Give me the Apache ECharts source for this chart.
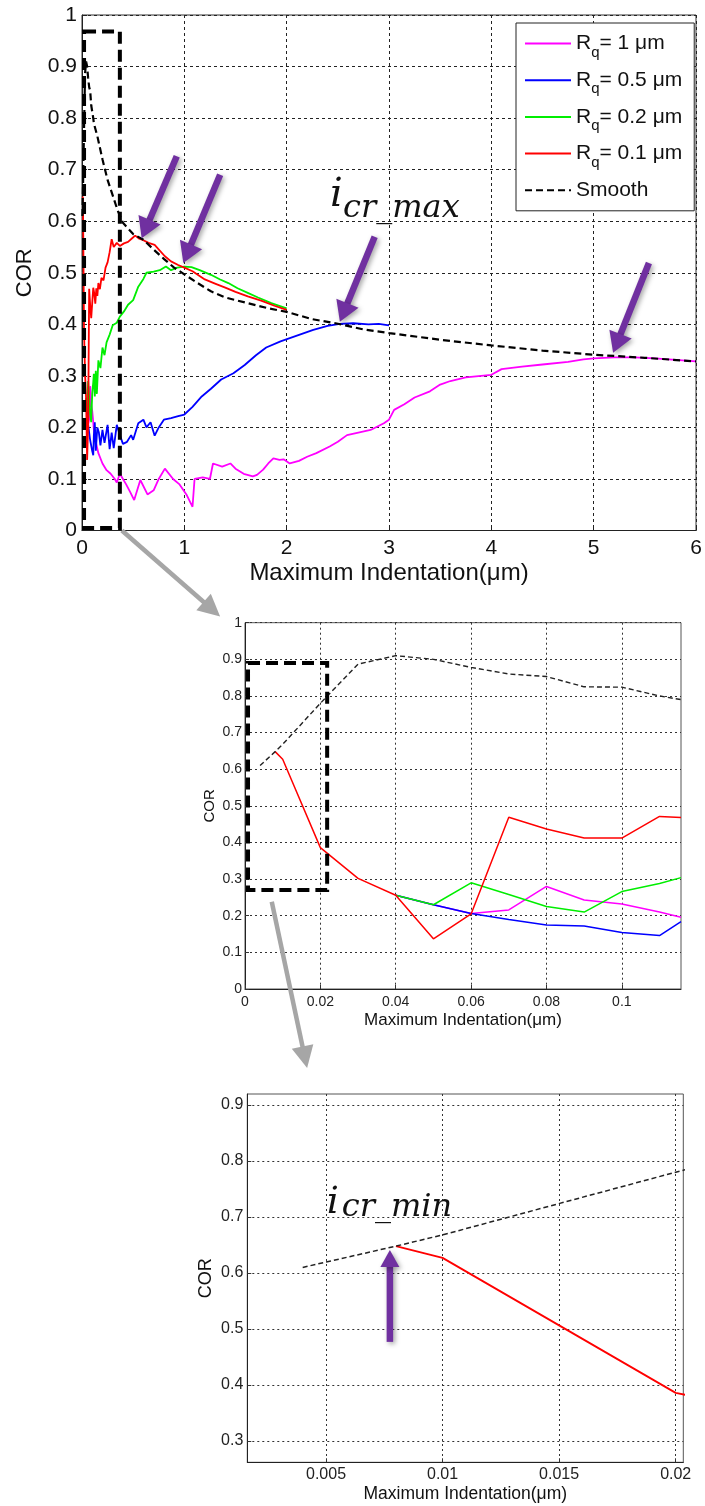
<!DOCTYPE html>
<html>
<head>
<meta charset="utf-8">
<script src="https://cdn.jsdelivr.net/npm/echarts@6/dist/echarts.min.js"></script>
<style>
html, body { margin: 0; padding: 0; background: #fff; }
#main { width: 705px; height: 1506px; }
</style>
</head>
<body>
<div id="main"></div>
<script>
// legend names (R with subscript q)
var seriesNames = ['Rq= 1 μm', 'Rq= 0.5 μm', 'Rq= 0.2 μm', 'Rq= 0.1 μm', 'Smooth'];

// fine data, first 0.12 µm (middle and bottom panel, also start of the top panel)
var fineSmooth = [[0.004,0.61],[0.008,0.648],[0.01,0.668],[0.02,0.78],[0.03,0.887],[0.04,0.91],[0.05,0.90],[0.06,0.878],[0.07,0.86],[0.08,0.853],[0.09,0.825],[0.1,0.824],[0.11,0.80],[0.1157,0.79]];
var fineRed = [[0.008,0.648],[0.01,0.627],[0.02,0.386],[0.03,0.302],[0.04,0.256],[0.05,0.137],[0.06,0.205],[0.07,0.469],[0.08,0.437],[0.09,0.412],[0.1,0.412],[0.11,0.471],[0.1157,0.468]];
var fineGreen = [[0.04,0.256],[0.05,0.23],[0.06,0.29],[0.07,0.258],[0.08,0.225],[0.09,0.21],[0.1,0.266],[0.11,0.288],[0.1157,0.304]];
var fineBlue = [[0.04,0.256],[0.05,0.23],[0.06,0.206],[0.07,0.19],[0.08,0.175],[0.09,0.172],[0.1,0.154],[0.11,0.146],[0.1157,0.184]];
var fineMagenta = [[0.04,0.256],[0.05,0.23],[0.06,0.206],[0.07,0.216],[0.08,0.28],[0.09,0.243],[0.1,0.232],[0.11,0.21],[0.1157,0.196]];

// rest of the curves (top panel only)
var restSmooth = [[0.15,0.765],[0.2,0.72],[0.25,0.68],[0.3,0.65],[0.35,0.62],[0.4,0.597],[0.5,0.575],[0.6,0.564],[0.7,0.545],[0.8,0.527],[0.9,0.51],[1.0,0.497],[1.13,0.48],[1.26,0.464],[1.4,0.452],[1.62,0.441],[1.8,0.432],[2.0,0.424],[2.25,0.41],[2.5,0.401],[2.75,0.39],[3.0,0.383],[3.5,0.37],[4.0,0.359],[4.5,0.349],[5.0,0.341],[5.5,0.335],[6.0,0.328]];
var restRed = [[0.12,0.46],[0.13,0.44],[0.14,0.47],[0.15,0.455],[0.16,0.48],[0.175,0.468],[0.19,0.49],[0.21,0.485],[0.23,0.51],[0.25,0.52],[0.27,0.54],[0.29,0.565],[0.31,0.55],[0.34,0.558],[0.37,0.552],[0.41,0.557],[0.45,0.56],[0.49,0.567],[0.52,0.572],[0.56,0.566],[0.6,0.563],[0.65,0.558],[0.71,0.554],[0.76,0.543],[0.81,0.532],[0.87,0.522],[0.94,0.515],[1.0,0.51],[1.08,0.503],[1.2,0.487],[1.3,0.479],[1.4,0.471],[1.5,0.463],[1.62,0.454],[1.75,0.446],[1.88,0.436],[2.0,0.428]];
var restGreen = [[0.125,0.26],[0.135,0.31],[0.145,0.265],[0.16,0.33],[0.18,0.315],[0.2,0.355],[0.22,0.34],[0.24,0.365],[0.27,0.38],[0.3,0.398],[0.34,0.403],[0.37,0.415],[0.41,0.425],[0.45,0.438],[0.5,0.447],[0.55,0.473],[0.6,0.488],[0.63,0.5],[0.7,0.502],[0.76,0.505],[0.82,0.512],[0.87,0.505],[0.93,0.51],[1.0,0.512],[1.07,0.511],[1.15,0.505],[1.26,0.496],[1.35,0.487],[1.43,0.48],[1.52,0.47],[1.62,0.461],[1.72,0.452],[1.85,0.441],[2.0,0.431]];
var restBlue = [[0.125,0.21],[0.135,0.155],[0.15,0.2],[0.165,0.19],[0.18,0.165],[0.2,0.195],[0.22,0.17],[0.25,0.205],[0.27,0.158],[0.29,0.19],[0.31,0.16],[0.34,0.205],[0.37,0.185],[0.4,0.168],[0.44,0.172],[0.48,0.185],[0.5,0.176],[0.55,0.208],[0.6,0.215],[0.63,0.2],[0.67,0.21],[0.71,0.184],[0.75,0.2],[0.8,0.215],[0.87,0.218],[0.94,0.222],[1.0,0.225],[1.08,0.24],[1.17,0.26],[1.26,0.275],[1.36,0.293],[1.48,0.305],[1.59,0.321],[1.7,0.34],[1.8,0.355],[1.94,0.367],[2.1,0.378],[2.26,0.389],[2.4,0.397],[2.52,0.401],[2.65,0.402],[2.8,0.4],[2.9,0.401],[3.0,0.398]];
var restMagenta = [[0.13,0.176],[0.16,0.15],[0.2,0.13],[0.24,0.117],[0.28,0.11],[0.32,0.1],[0.34,0.093],[0.37,0.11],[0.4,0.1],[0.43,0.09],[0.47,0.075],[0.51,0.059],[0.57,0.098],[0.64,0.07],[0.7,0.078],[0.75,0.1],[0.81,0.12],[0.89,0.1],[0.95,0.09],[1.02,0.07],[1.08,0.046],[1.1,0.1],[1.18,0.103],[1.25,0.1],[1.28,0.13],[1.37,0.124],[1.45,0.13],[1.5,0.12],[1.58,0.11],[1.67,0.105],[1.71,0.108],[1.77,0.118],[1.82,0.13],[1.87,0.14],[1.93,0.137],[1.97,0.138],[2.03,0.13],[2.12,0.135],[2.2,0.143],[2.29,0.15],[2.42,0.163],[2.5,0.172],[2.59,0.185],[2.7,0.19],[2.82,0.195],[2.95,0.208],[3.0,0.215],[3.05,0.234],[3.15,0.245],[3.25,0.258],[3.4,0.27],[3.5,0.283],[3.6,0.29],[3.75,0.297],[3.9,0.3],[4.0,0.302],[4.1,0.313],[4.3,0.318],[4.5,0.322],[4.75,0.327],[4.9,0.332],[5.0,0.334],[5.2,0.336],[5.4,0.336],[5.6,0.334],[5.8,0.331],[6.0,0.328]];

// tick values
var midXTicks = [0, 0.02, 0.04, 0.06, 0.08, 0.1];
var lowXTicks = [0.005, 0.01, 0.015, 0.02];
var lowYTicks = [0.3, 0.4, 0.5, 0.6, 0.7, 0.8, 0.9];

var FONT = 'Liberation Sans';
var colors = ['#ff00ff', '#0000ff', '#00ee00', '#ff0000', '#000000'];

var chart = echarts.init(document.getElementById('main'));

function xAx(grid, opt) {
    return Object.assign({
        gridIndex: grid,
        type: 'value',
        nameLocation: 'middle',
        axisLine: { show: true, onZero: false, lineStyle: { color: '#222', width: 1 } },
        axisTick: { show: true, inside: true, length: 5, lineStyle: { color: '#222' } },
        splitLine: { show: true, lineStyle: { color: '#333', type: [2, 3], width: 1 } }
    }, opt);
}

function line(name, grid, data, color, width, dashed) {
    return {
        name: name,
        type: 'line',
        xAxisIndex: grid,
        yAxisIndex: grid,
        data: data,
        symbol: 'none',
        silent: true,
        lineStyle: { color: color, width: width, type: dashed ? dashed : 'solid' },
        itemStyle: { color: color }
    };
}

var option = {
    backgroundColor: '#fff',
    animation: false,
    grid: [
        { left: 82, top: 15, width: 614, height: 515.5, show: true, borderColor: '#333', borderWidth: 1, backgroundColor: '#fff' },
        { left: 245, top: 622.7, width: 436, height: 366.3, show: true, borderColor: '#555', borderWidth: 1, backgroundColor: '#fff' },
        { left: 247.3, top: 1094, width: 436, height: 368.3, show: true, borderColor: '#555', borderWidth: 1, backgroundColor: '#fff' }
    ],
    legend: {
        data: seriesNames,
        orient: 'vertical',
        left: 516,
        top: 23,
        padding: [4, 12, 4, 8],
        itemGap: 3.7,
        itemWidth: 46,
        itemHeight: 14,
        backgroundColor: '#fff',
        borderColor: '#222',
        borderWidth: 1,
        borderRadius: 0,
        selectedMode: false,
        // hide the symbol drawn in the middle of the line icon
        itemStyle: { opacity: 0, color: 'rgba(0,0,0,0)', borderWidth: 0 },
        formatter: function (name) {
            if (name.indexOf('Rq') === 0) {
                return '{r|R}{q|q}{r|' + name.slice(2) + '}';
            }
            return '{r|' + name + '}{q| }';
        },
        textStyle: {
            rich: {
                r: { fontSize: 21, lineHeight: 33, fontFamily: FONT, color: '#111' },
                q: { fontSize: 15, lineHeight: 15, padding: [18, 0, 0, 0], fontFamily: FONT, color: '#111' }
            }
        }
    },
    xAxis: [
        xAx(0, {
            min: 0, max: 6, interval: 1,
            axisLabel: { fontSize: 21, color: '#111', margin: 7, fontFamily: FONT },
            splitLine: { show: true, lineStyle: { color: '#222', type: [3, 3], width: 1 } },
            name: 'Maximum Indentation(μm)', nameGap: 31, nameMoveOverlap: false,
            nameTextStyle: { fontSize: 24, color: '#111', fontFamily: FONT }
        }),
        xAx(1, {
            min: 0, max: 0.1157,
            axisLabel: { fontSize: 14, color: '#222', margin: 6, fontFamily: FONT, customValues: midXTicks },
            axisTick: { show: true, inside: true, length: 4, lineStyle: { color: '#333' }, customValues: midXTicks },
            name: 'Maximum Indentation(μm)', nameGap: 23, nameMoveOverlap: false,
            nameTextStyle: { fontSize: 17, color: '#111', fontFamily: FONT }
        }),
        xAx(2, {
            min: 0.001624, max: 0.020326,
            axisLabel: { fontSize: 16, color: '#222', margin: 4, fontFamily: FONT, customValues: lowXTicks },
            axisTick: { show: true, inside: true, length: 4, lineStyle: { color: '#333' }, customValues: lowXTicks },
            name: 'Maximum Indentation(μm)', nameGap: 23, nameMoveOverlap: false,
            nameTextStyle: { fontSize: 17.5, color: '#111', fontFamily: FONT }
        })
    ],
    yAxis: [
        xAx(0, {
            min: 0, max: 1, interval: 0.1,
            axisLabel: { fontSize: 21, color: '#111', margin: 5, fontFamily: FONT },
            splitLine: { show: true, lineStyle: { color: '#222', type: [3, 3], width: 1 } },
            name: 'COR', nameGap: 46, nameRotate: 90, nameMoveOverlap: false,
            nameTextStyle: { fontSize: 22, color: '#111', fontFamily: FONT }
        }),
        xAx(1, {
            min: 0, max: 1, interval: 0.1,
            axisLabel: { fontSize: 14, color: '#222', margin: 3, fontFamily: FONT },
            axisTick: { show: true, inside: true, length: 4, lineStyle: { color: '#333' } },
            name: 'COR', nameGap: 28, nameRotate: 90, nameMoveOverlap: false,
            nameTextStyle: { fontSize: 15, color: '#111', fontFamily: FONT }
        }),
        xAx(2, {
            min: 0.262, max: 0.9196,
            axisLabel: { fontSize: 16, color: '#222', margin: 4, fontFamily: FONT, customValues: lowYTicks },
            axisTick: { show: true, inside: true, length: 4, lineStyle: { color: '#333' }, customValues: lowYTicks },
            name: 'COR', nameGap: 32, nameRotate: 90, nameMoveOverlap: false,
            nameTextStyle: { fontSize: 18, color: '#111', fontFamily: FONT }
        })
    ],
    series: [
        // top panel
        line(seriesNames[0], 0, fineMagenta.concat(restMagenta), colors[0], 1.8),
        line(seriesNames[1], 0, fineBlue.concat(restBlue), colors[1], 1.8),
        line(seriesNames[2], 0, fineGreen.concat(restGreen), colors[2], 1.8),
        line(seriesNames[3], 0, fineRed.concat(restRed), colors[3], 1.8),
        line(seriesNames[4], 0, fineSmooth.concat(restSmooth), colors[4], 2.2, [7, 4]),
        // middle panel
        line(seriesNames[0], 1, fineMagenta, colors[0], 1.5),
        line(seriesNames[1], 1, fineBlue, colors[1], 1.5),
        line(seriesNames[2], 1, fineGreen, colors[2], 1.5),
        line(seriesNames[3], 1, fineRed, colors[3], 1.5),
        line(seriesNames[4], 1, fineSmooth, '#222', 1.4, [5, 3]),
        // bottom panel
        line(seriesNames[3], 2, fineRed, colors[3], 1.8),
        line(seriesNames[4], 2, fineSmooth, '#222', 1.5, [5, 3])
    ]
};

chart.setOption(option);

// annotations: positions given in each panel's data coordinates
function px(grid, pt) {
    return chart.convertToPixel({ gridIndex: grid }, pt);
}

function arrow(p0, p1, width, headLen, headW, color, shadow) {
    var dx = p1[0] - p0[0], dy = p1[1] - p0[1];
    var len = Math.sqrt(dx * dx + dy * dy);
    var ux = dx / len, uy = dy / len;
    var bx = p1[0] - ux * headLen, by = p1[1] - uy * headLen;
    var nx = -uy, ny = ux;
    var st = shadow ? { shadowBlur: 5, shadowColor: 'rgba(0,0,0,0.35)', shadowOffsetX: 2, shadowOffsetY: 2 } : {};
    return [
        { type: 'line', z: 100, silent: true,
          shape: { x1: p0[0], y1: p0[1], x2: bx + ux * 2, y2: by + uy * 2 },
          style: Object.assign({ stroke: color, lineWidth: width }, st) },
        { type: 'polygon', z: 100, silent: true,
          shape: { points: [[p1[0], p1[1]], [bx + nx * headW / 2, by + ny * headW / 2], [bx - nx * headW / 2, by - ny * headW / 2]] },
          style: Object.assign({ fill: color }, st) }
    ];
}

function box(grid, a, b) {
    var p = px(grid, a), q = px(grid, b);
    return { type: 'rect', z: 90, silent: true,
        shape: { x: Math.min(p[0], q[0]), y: Math.min(p[1], q[1]), width: Math.abs(q[0] - p[0]), height: Math.abs(q[1] - p[1]) },
        style: { fill: null, stroke: '#000', lineWidth: 4, lineDash: [12, 6] } };
}

function label(pos, text, size, dy) {
    return { type: 'text', z: 110, silent: true,
        style: { text: text, x: pos[0], y: pos[1] + dy - 0.346 * size, font: 'italic ' + size + 'px "DejaVu Serif"', fill: '#111', align: 'left', verticalAlign: 'middle' } };
}

var purple = '#7030a0';
var grey = '#a6a6a6';
var g = [];

g.push(box(0, [0.02, 0.968], [0.37, 0.005]));
g.push(box(1, [0.0008, 0.89], [0.0218, 0.27]));

g = g.concat(arrow(px(0, [0.926, 0.726]), px(0, [0.583, 0.567]), 6.5, 20, 24, purple, true));
g = g.concat(arrow(px(0, [1.35, 0.69]), px(0, [0.99, 0.519]), 6.5, 20, 24, purple, true));
g = g.concat(arrow(px(0, [2.86, 0.57]), px(0, [2.52, 0.405]), 6.5, 20, 24, purple, true));
g = g.concat(arrow(px(0, [5.54, 0.519]), px(0, [5.19, 0.345]), 6.5, 20, 24, purple, true));
g = g.concat(arrow(px(2, [0.00774, 0.477]), px(2, [0.00774, 0.641]), 6.5, 17, 19, purple, true));

g = g.concat(arrow(px(0, [0.39, 0.0]), px(1, [-0.0066, 1.017]), 4.5, 22, 22, grey, false));
g = g.concat(arrow(px(1, [0.0071, 0.238]), px(2, [0.00419, 0.966]), 4.5, 22, 22, grey, false));

var maxAt = px(0, [2.424, 0.6223]);
g.push(label(maxAt, 'i', 40, 0));
g.push(label([maxAt[0] + 13, maxAt[1]], 'cr_max', 32, 10));
var minAt = px(2, [0.00503, 0.7018]);
g.push(label(minAt, 'i', 38, 0));
g.push(label([minAt[0] + 15, minAt[1]], 'cr_min', 32, 3));

chart.setOption({ graphic: g });
</script>
</body>
</html>
